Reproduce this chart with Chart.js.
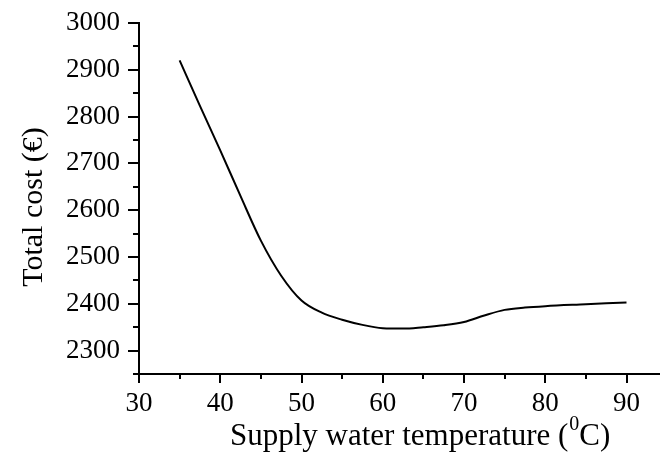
<!DOCTYPE html>
<html>
<head>
<meta charset="utf-8">
<script src="https://cdn.jsdelivr.net/npm/chart.js@4.4.0/dist/chart.umd.min.js"></script>
<style>
  html, body { margin: 0; padding: 0; background: #fff; }
  #wrap { width: 660px; height: 454px; }
</style>
</head>
<body>
<div id="wrap"><canvas id="costChart" width="660" height="454"></canvas></div>
<script>
// supply water temperature (°C)
const temps = [35, 37.5, 40, 42.5, 45, 47.5, 50, 52.5, 55, 57.5, 60, 62.5, 65, 67.5, 70, 72.5, 75, 77.5, 80, 85, 90]
// total cost (€)
const costs = [2920, 2823, 2728, 2630, 2535, 2460, 2407, 2381, 2366, 2355, 2348, 2347, 2350, 2354, 2361, 2375, 2387, 2392, 2395, 2399, 2403]
// tick values
const xTicks = [30, 35, 40, 45, 50, 55, 60, 65, 70, 75, 80, 85, 90]
const yTicks = [2250, 2300, 2350, 2400, 2450, 2500, 2550, 2600, 2650, 2700, 2750, 2800, 2850, 2900, 2950, 3000]

const FONT = "'Liberation Serif', 'Times New Roman', serif"

// tick marks drawn by hand so major / minor can have different lengths
const tickMarks = {
    id: 'tickMarks',
    afterDraw(chart) {
        const ctx = chart.ctx
        const xs = chart.scales.x
        const ys = chart.scales.y
        ctx.save()
        ctx.strokeStyle = '#000'
        ctx.lineWidth = 2
        ctx.beginPath()
        xs.ticks.forEach(t => {
            const px = Math.round(xs.getPixelForValue(t.value))
            const len = t.value % 10 === 0 ? 9 : 5
            ctx.moveTo(px, xs.top)
            ctx.lineTo(px, xs.top + len)
        })
        ys.ticks.forEach(t => {
            const py = Math.round(ys.getPixelForValue(t.value))
            const len = t.value % 100 === 0 ? 11 : 6
            ctx.moveTo(ys.right, py)
            ctx.lineTo(ys.right - len, py)
        })
        ctx.stroke()

        // axis titles
        ctx.fillStyle = '#000'
        ctx.textBaseline = 'alphabetic'
        ctx.textAlign = 'left'
        ctx.font = '31px ' + FONT
        let x = 230
        const y = 445
        const a = 'Supply water temperature ('
        ctx.fillText(a, x, y)
        x += ctx.measureText(a).width + 1
        ctx.font = '20px ' + FONT
        ctx.fillText('0', x, y - 15)
        x += ctx.measureText('0').width
        ctx.font = '31px ' + FONT
        ctx.fillText('C)', x, y)

        ctx.translate(42, 207)
        ctx.rotate(-Math.PI / 2)
        ctx.textAlign = 'center'
        ctx.font = '30px ' + FONT
        ctx.fillText('Total cost (€)', 0, 0)
        ctx.restore()
    }
}

var costChart = new Chart(
    document.getElementById('costChart'),
    {
        type: 'line',
        data: {
            datasets: [{
                data: temps.map((t, i) => ({ x: t, y: costs[i] })),
                borderColor: '#000',
                borderWidth: 2,
                pointRadius: 0,
                fill: false,
                cubicInterpolationMode: 'monotone'
            }]
        },
        options: {
            responsive: false,
            animation: false,
            layout: {
                padding: { top: 23, right: 1, left: 0, bottom: 0 }
            },
            plugins: {
                legend: { display: false },
                tooltip: { enabled: false }
            },
            scales: {
                x: {
                    type: 'linear',
                    min: 30,
                    max: 94,
                    afterBuildTicks: s => { s.ticks = xTicks.map(v => ({ value: v })) },
                    afterFit: s => { s.height = 80; s.paddingLeft = 0; s.paddingRight = 0 },
                    border: { color: '#000', width: 2 },
                    grid: { drawOnChartArea: false, drawTicks: false },
                    ticks: {
                        autoSkip: false,
                        maxRotation: 0,
                        padding: 14,
                        color: '#000',
                        font: { family: FONT, size: 27 },
                        callback: v => (v % 10 === 0 ? String(v) : '')
                    }
                },
                y: {
                    min: 2250,
                    max: 3000,
                    afterBuildTicks: s => { s.ticks = yTicks.map(v => ({ value: v })) },
                    afterFit: s => { s.width = 139; s.paddingTop = 0; s.paddingBottom = 0 },
                    border: { color: '#000', width: 2 },
                    grid: { drawOnChartArea: false, drawTicks: false },
                    ticks: {
                        autoSkip: false,
                        padding: 19,
                        color: '#000',
                        font: { family: FONT, size: 27 },
                        callback: v => (v % 100 === 0 && v >= 2300 ? String(v) : '')
                    }
                }
            }
        },
        plugins: [tickMarks]
    }
);
</script>
</body>
</html>
